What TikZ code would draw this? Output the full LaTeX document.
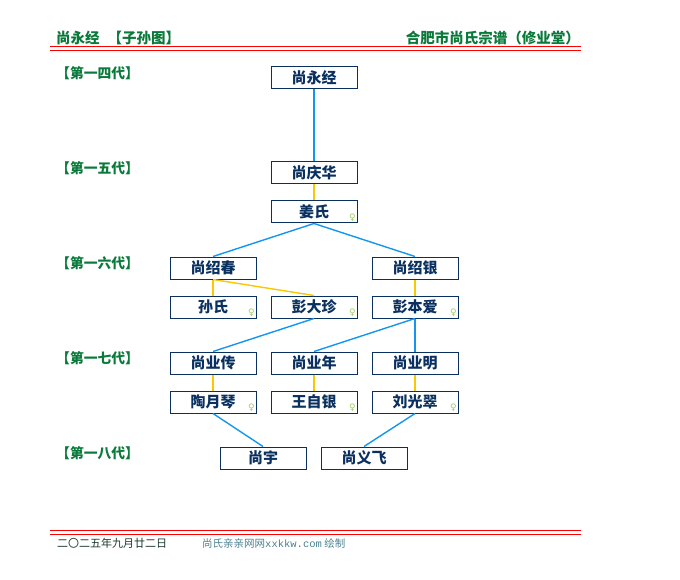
\documentclass[tikz,border=0pt]{standalone}
\usepackage{fontspec}
\setmainfont{Liberation Serif}
\newfontfamily\cjk{Noto Sans CJK SC}
\newfontfamily\dejavu{DejaVu Sans}
\newfontfamily\monofam{Liberation Mono}
\definecolor{navy}{HTML}{0A3060}
\definecolor{hdrgreen}{HTML}{0A7A3A}
\definecolor{linkblue}{HTML}{1496F0}
\definecolor{linkyellow}{HTML}{F8C800}
\definecolor{femgreen}{HTML}{9ACC60}
\definecolor{footdark}{HTML}{1A3A2A}
\definecolor{foottext}{HTML}{4A8090}
\tikzset{
  person/.style={draw=navy, line width=1pt, minimum width=86pt, minimum height=22pt,
    inner sep=0pt, font=\cjk\bfseries\fontsize{15}{15}\selectfont, text=navy, anchor=center},
  genlabel/.style={anchor=west, inner sep=0pt, font=\cjk\bfseries\fontsize{13.8}{14}\selectfont, text=hdrgreen},
  hdr/.style={inner sep=0pt, font=\cjk\bfseries\fontsize{14.5}{15}\selectfont, text=hdrgreen},
  bloodline/.style={draw=linkblue, line width=1.4pt},
  marriage/.style={draw=linkyellow, line width=1.4pt},
  redrule/.style={draw=red, line width=1pt},
  femmark/.style={inner sep=0pt, font=\dejavu\fontsize{9}{9}\selectfont, text=femgreen}
}
\newcommand{\fem}[1]{\node[femmark] at ([xshift=-5pt,yshift=6pt]#1.south east) {♀};}
\begin{document}
\begin{tikzpicture}[x=1pt,y=-1pt]
\useasboundingbox (0,0) rectangle (680,580);
% header
\node[hdr, anchor=west] (title) at (56,38) {尚永经\hspace{8pt}【子孙图】};
\node[hdr, anchor=east] (clan) at (580,38) {合肥市尚氏宗谱（修业堂）};
\coordinate (hl1a) at (50,47); \coordinate (hl1b) at (581,47);
\coordinate (hl2a) at (50,50.5); \coordinate (hl2b) at (581,50.5);
\draw[redrule] (hl1a) -- (hl1b);
\draw[redrule] (hl2a) -- (hl2b);
% generation labels
\node[genlabel] (g14) at (56,73) {【第一四代】};
\node[genlabel] (g15) at (56,168) {【第一五代】};
\node[genlabel] (g16) at (56,263) {【第一六代】};
\node[genlabel] (g17) at (56,358) {【第一七代】};
\node[genlabel] (g18) at (56,453) {【第一八代】};
% persons
\node[person] (p1) at (314,78) {尚永经};
\node[person] (p2) at (314,173) {尚庆华};
\node[person] (p2w) at (314,212) {姜氏};
\node[person] (p3a) at (213,268) {尚绍春};
\node[person] (p3b) at (415,268) {尚绍银};
\node[person] (p3aw1) at (213,307) {孙氏};
\node[person] (p3aw2) at (314,307) {彭大珍};
\node[person] (p3bw) at (415,307) {彭本爱};
\node[person] (p4a) at (213,363) {尚业传};
\node[person] (p4b) at (314,363) {尚业年};
\node[person] (p4c) at (415,363) {尚业明};
\node[person] (p4aw) at (213,402) {陶月琴};
\node[person] (p4bw) at (314,402) {王自银};
\node[person] (p4cw) at (415,402) {刘光翠};
\node[person] (p5a) at (263,458) {尚宇};
\node[person] (p5b) at (364,458) {尚义飞};
% female marks
\fem{p2w}\fem{p3aw1}\fem{p3aw2}\fem{p3bw}\fem{p4aw}\fem{p4bw}\fem{p4cw}
% connectors
\draw[bloodline] (p1.south) -- (p2.north);
\draw[marriage] (p2.south) -- (p2w.north);
\draw[bloodline] (p2w.south) -- (p3a.north);
\draw[bloodline] (p2w.south) -- (p3b.north);
\draw[marriage] (p3a.south) -- (p3aw1.north);
\draw[marriage] (p3a.south) -- (p3aw2.north);
\draw[marriage] (p3b.south) -- (p3bw.north);
\draw[bloodline] (p3aw2.south) -- (p4a.north);
\draw[bloodline] (p3bw.south) -- (p4b.north);
\draw[bloodline] (p3bw.south) -- (p4c.north);
\draw[marriage] (p4a.south) -- (p4aw.north);
\draw[marriage] (p4b.south) -- (p4bw.north);
\draw[marriage] (p4c.south) -- (p4cw.north);
\draw[bloodline] (p4aw.south) -- (p5a.north);
\draw[bloodline] (p4cw.south) -- (p5b.north);
% footer
\coordinate (fl1a) at (50,530.5); \coordinate (fl1b) at (581,530.5);
\coordinate (fl2a) at (50,534.5); \coordinate (fl2b) at (581,534.5);
\draw[redrule] (fl1a) -- (fl1b);
\draw[redrule] (fl2a) -- (fl2b);
\node[anchor=west, inner sep=0pt, text=footdark, font=\cjk\fontsize{11}{11}\selectfont] (date) at (57,543) {二〇二五年九月廿二日};
\node[anchor=west, inner sep=0pt, text=foottext, font=\cjk\fontsize{10.5}{11}\selectfont] (site) at (202,543) {尚氏亲亲网网{\monofam\fontsize{10.5}{11}\selectfont xxkkw.com} 绘制};
\end{tikzpicture}
\end{document}
